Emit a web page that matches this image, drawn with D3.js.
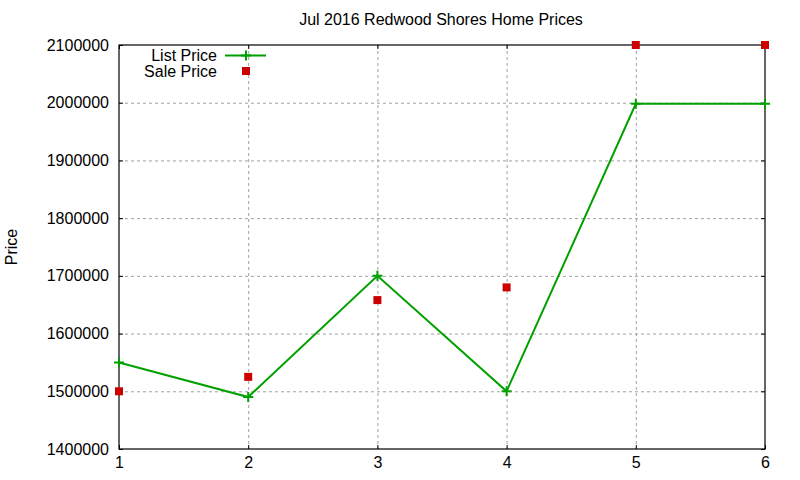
<!DOCTYPE html>
<html>
<head>
<meta charset="utf-8">
<script src="https://cdn.jsdelivr.net/npm/d3@7"></script>
<style>
body{margin:0;background:#fff;}
text{font-family:"Liberation Sans",Arial,sans-serif;font-size:16px;fill:#000;}
</style>
</head>
<body>
<svg id="chart" width="800" height="480"></svg>
<script>
// data
var months=[1,2,3,4,5,6];
var listPrice=[1550000,1490000,1700000,1500000,1998000,1998000];
var salePrice=[1500000,1525000,1658000,1680000,2100000,2100000];
var yTicks=[1400000,1500000,1600000,1700000,1800000,1900000,2000000,2100000];

var green='#00a000';
var red='#cc0000';

var svg=d3.select('#chart');
var pLeft=119,pRight=765,pTop=45,pBottom=449;

var x=d3.scaleLinear().domain([1,6]).range([pLeft,pRight]);
var y=d3.scaleLinear().domain([1400000,2100000]).range([pBottom,pTop]);

// grid
var grid=svg.append('g').attr('stroke','#a0a0a0').attr('stroke-width',1).attr('stroke-dasharray','3,3');
grid.selectAll('.gx').data(months.slice(1,-1)).enter().append('line')
  .attr('x1',d=>x(d)+0.5).attr('x2',d=>x(d)+0.5).attr('y1',pTop).attr('y2',pBottom);
grid.selectAll('.gy').data(yTicks.slice(1,-1)).enter().append('line')
  .attr('y1',d=>y(d)+0.5).attr('y2',d=>y(d)+0.5).attr('x1',pLeft).attr('x2',pRight);

// axes, ticks pointing inward like gnuplot
svg.append('g').attr('transform','translate(0,'+pBottom+')')
  .call(d3.axisBottom(x).tickValues(months).tickFormat(d3.format('d')).tickSizeInner(-4).tickSizeOuter(0).tickPadding(8));
svg.append('g').attr('transform','translate(0,'+pTop+')')
  .call(d3.axisTop(x).tickValues(months).tickFormat('').tickSizeInner(-4).tickSizeOuter(0));
svg.append('g').attr('transform','translate('+pLeft+',0)')
  .call(d3.axisLeft(y).tickValues(yTicks).tickFormat(d3.format('d')).tickSizeInner(-4).tickSizeOuter(0).tickPadding(10));
svg.append('g').attr('transform','translate('+pRight+',0)')
  .call(d3.axisRight(y).tickValues(yTicks).tickFormat('').tickSizeInner(-4).tickSizeOuter(0));
svg.selectAll('.domain').remove();
svg.selectAll('.tick line').attr('stroke','#000');
svg.selectAll('.tick text').style('font-family','"Liberation Sans",Arial,sans-serif').style('font-size','16px').attr('fill','#000');

svg.append('rect').attr('x',pLeft).attr('y',pTop).attr('width',pRight-pLeft).attr('height',pBottom-pTop)
  .attr('fill','none').attr('stroke','#000').attr('stroke-width',1.2);

// list price line
var pts=months.map((m,i)=>[m,listPrice[i]]);
svg.append('path').datum(pts)
  .attr('d',d3.line().x(d=>x(d[0])).y(d=>y(d[1])))
  .attr('fill','none').attr('stroke',green).attr('stroke-width',2);

function plus(g,cx,cy){
  g.append('path').attr('d','M'+(cx-5)+','+cy+'H'+(cx+5)+'M'+cx+','+(cy-5)+'V'+(cy+5))
    .attr('stroke',green).attr('stroke-width',2).attr('fill','none');
}
pts.forEach(d=>plus(svg,x(d[0]),y(d[1])));

// sale price squares
svg.selectAll('.sale').data(months).enter().append('rect')
  .attr('x',(d)=>x(d)-4).attr('y',(d,i)=>y(salePrice[i])-4)
  .attr('width',8).attr('height',8).attr('fill',red);

// legend
svg.append('text').text('List Price').attr('x',217).attr('y',61).attr('text-anchor','end');
svg.append('line').attr('x1',225).attr('x2',266).attr('y1',55.5).attr('y2',55.5).attr('stroke',green).attr('stroke-width',2);
plus(svg,246,55.5);
svg.append('text').text('Sale Price').attr('x',217).attr('y',77).attr('text-anchor','end');
svg.append('rect').attr('x',242).attr('y',67).attr('width',8).attr('height',8).attr('fill',red);

// title and axis label
svg.append('text').text('Jul 2016 Redwood Shores Home Prices').attr('x',441).attr('y',25).attr('text-anchor','middle');
svg.append('text').text('Price').attr('transform','translate(17,247) rotate(-90)').attr('text-anchor','middle');
</script>
</body>
</html>
